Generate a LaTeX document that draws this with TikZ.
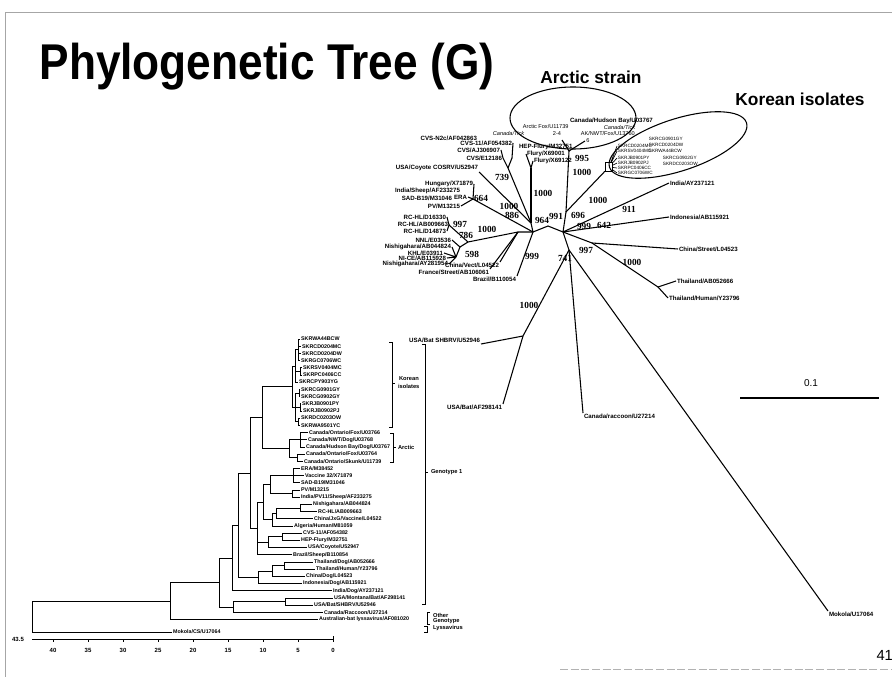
\documentclass[tikz,border=0pt]{standalone}
\usepackage{fontspec}
\setmainfont{Liberation Sans}
\newfontfamily\bootfont{Liberation Serif}
\usetikzlibrary{positioning}

\tikzset{every picture/.style={line width=0.75pt}}
\tikzset{
  br/.style={line width=0.6pt},
  rb/.style={line width=0.8pt},
  tlab/.style={anchor=west,inner sep=0.5pt,font=\bfseries\fontsize{4}{4.4}\selectfont},
  rlab/.style={inner sep=0.4pt,font=\bfseries\fontsize{4.6}{5}\selectfont},
  klab/.style={anchor=west,inner sep=0.3pt,font=\fontsize{3.5}{3.8}\selectfont},
  boot/.style={inner sep=0pt,font=\bootfont\bfseries\fontsize{7}{8}\selectfont},
  grp/.style={anchor=west,inner sep=0.4pt,font=\bfseries\fontsize{4.3}{4.7}\selectfont},
  axl/.style={inner sep=0pt,font=\bfseries\fontsize{4.5}{5}\selectfont},
  head/.style={inner sep=0pt,font=\bfseries\fontsize{13}{15}\selectfont},
}

\begin{document}
\begin{tikzpicture}[x=0.75pt,y=0.75pt,yscale=-1,xscale=1]
\useasboundingbox (0,0) rectangle (892,677);

%Slide frame
\draw [gray!70,line width=0.6pt] (5,677) -- (5,12) -- (892,12) ;
\draw [gray!60,line width=0.6pt,dash pattern=on 6pt off 2pt] (560,669) -- (892,669) ;

% Text Node
\node [anchor=base west,inner sep=0pt,font=\bfseries\fontsize{37.7}{40}\selectfont] (title) at (39,80) {\scalebox{0.88}[1]{Phylogenetic Tree (G)}};
% Text Node
\node [head] (arcticlbl) at (591,77) {Arctic strain};
% Text Node
\node [head] (korlbl) at (800,99) {Korean isolates};

%Shape: Ellipse
\draw [rb] (573,118) ellipse [x radius=63, y radius=31] ;
%Shape: Ellipse
\draw [rb,rotate around={-18:(678,145)}] (678,145) ellipse [x radius=72, y radius=26] ;

%%%%%%%% rectangular tree : leaves
\node [tlab] (t1) at (300,339.0) {SKRWA44BCW};
\node [tlab] (t2) at (301,346.2) {SKRCD0204MC};
\node [tlab] (t3) at (301,353.4) {SKRCD0204DW};
\node [tlab] (t4) at (300,360.6) {SKRGC0706WC};
\node [tlab] (t5) at (302,367.8) {SKRSV0404MC};
\node [tlab] (t6) at (302,375.0) {SKRPC0406CC};
\node [tlab] (t7) at (298,382.1) {SKRCPY903YG};
\node [tlab] (t8) at (300,389.3) {SKRCG0901GY};
\node [tlab] (t9) at (300,396.5) {SKRCG0902GY};
\node [tlab] (t10) at (301,403.7) {SKRJB0901PY};
\node [tlab] (t11) at (302,410.9) {SKRJB0902PJ};
\node [tlab] (t12) at (300,418.1) {SKRDC0203OW};
\node [tlab] (t13) at (300,425.3) {SKRWA9501YC};
\node [tlab] (t14) at (308,432.5) {Canada/Ontario/Fox/U03766};
\node [tlab] (t15) at (307,439.7) {Canada/NWT/Dog/U03768};
\node [tlab] (t16) at (305,446.9) {Canada/Hudson Bay/Dog/U03767};
\node [tlab] (t17) at (305,454.0) {Canada/Ontario/Fox/U03764};
\node [tlab] (t18) at (303,461.2) {Canada/Ontario/Skunk/U11739};
\node [tlab] (t19) at (300,468.4) {ERA/M38452};
\node [tlab] (t20) at (304,475.6) {Vaccine 32/X71879};
\node [tlab] (t21) at (300,482.8) {SAD-B19/M31046};
\node [tlab] (t22) at (300,490.0) {PV/M13215};
\node [tlab] (t23) at (300,497.2) {India/PV11/Sheep/AF233275};
\node [tlab] (t24) at (312,504.4) {Nishigahara/AB044824};
\node [tlab] (t25) at (317,511.6) {RC-HL/AB009663};
\node [tlab] (t26) at (313,518.8) {China/JxG/Vaccine/L04522};
\node [tlab] (t27) at (293,525.9) {Algeria/Human/M81059};
\node [tlab] (t28) at (302,533.1) {CVS-11/AF054382};
\node [tlab] (t29) at (300,540.3) {HEP-Flury/M32751};
\node [tlab] (t30) at (307,547.5) {USA/Coyote/U52947};
\node [tlab] (t31) at (292,554.7) {Brazil/Sheep/B110854};
\node [tlab] (t32) at (313,561.9) {Thailand/Dog/AB052666};
\node [tlab] (t33) at (315,569.1) {Thailand/Human/Y23796};
\node [tlab] (t34) at (305,576.3) {China/Dog/L04523};
\node [tlab] (t35) at (302,583.5) {Indonesia/Dog/AB115921};
\node [tlab] (t36) at (332,590.7) {India/Dog/AY237121};
\node [tlab] (t37) at (333,597.9) {USA/Montana/Bat/AF298141};
\node [tlab] (t38) at (313,605.1) {USA/Bat/SHBRV/U52946};
\node [tlab] (t39) at (323,612.2) {Canada/Raccoon/U27214};
\node [tlab] (t40) at (318,619.4) {Australian-bat lyssavirus/AF081020};
\node [tlab] (t41) at (172,632) {Mokola/CS/U17064};

%%%%%%%% rectangular tree : inner nodes
\coordinate (kA) at (298,349.8);
\coordinate (kB) at (300,371.4);
\coordinate (kC) at (295,366.0);
\coordinate (kD) at (299,392.9);
\coordinate (kE) at (300,407.3);
\coordinate (kF) at (298,421.7);
\coordinate (kG) at (295,407.3);
\coordinate (K0) at (292,386.6);
\coordinate (a1) at (300,439.7);
\coordinate (a2) at (297,457.6);
\coordinate (A0) at (289,448.7);
\coordinate (KA) at (262,417.6);
\coordinate (e1) at (293,475.6);
\coordinate (e2) at (292,493.6);
\coordinate (e3) at (270,484.6);
\coordinate (n1) at (300,508.0);
\coordinate (n2) at (276,513.4);
\coordinate (n3) at (272,519.7);
\coordinate (e4) at (263,502.1);
\coordinate (c1) at (282,536.7);
\coordinate (c2) at (268,542.1);
\coordinate (Z) at (257,528.4);
\coordinate (X) at (250,473.0);
\coordinate (th1) at (284,565.5);
\coordinate (th2) at (272,570.9);
\coordinate (th3) at (258,577.2);
\coordinate (G1a) at (238,525.1);
\coordinate (G1b) at (232,557.9);
\coordinate (b1) at (285,601.5);
\coordinate (b2) at (233,606.9);
\coordinate (G1) at (219,582.4);
\coordinate (N7) at (170,600.9);
\coordinate (root) at (32,616.5);

%Straight Lines
\foreach \p/\c in {kA/t1,kA/t2,kA/t3,kA/t4,kB/t5,kB/t6,kC/kA,kC/kB,kC/t7,
  kD/t8,kD/t9,kE/t10,kE/t11,kF/t12,kF/t13,kG/kD,kG/kE,kG/kF,K0/kC,K0/kG,
  a1/t14,a1/t15,a1/t16,a2/t17,a2/t18,A0/a1,A0/a2,KA/K0,KA/A0,
  e1/t19,e1/t20,e1/t21,e2/t22,e2/t23,e3/e1,e3/e2,n1/t24,n1/t25,n2/n1,n2/t26,
  n3/n2,n3/t27,e4/e3,e4/n3,c1/t28,c1/t29,c2/c1,c2/t30,Z/e4,Z/c2,Z/t31,X/KA,X/Z,
  th1/t32,th1/t33,th2/th1,th2/t34,th3/th2,th3/t35,G1a/X,G1a/th3,G1b/G1a,G1b/t36,
  b1/t37,b1/t38,b2/b1,b2/t39,G1/G1b,G1/b2,N7/G1,N7/t40,root/N7,root/t41}
  \draw [br] (\p) |- (\c) ;

%Brackets
\draw [br] (389,342) -- (392,342) -- (392,427) -- (389,427) (392,383) -- (395,383) ;
\node [grp] (korgrp) at (398,379) {Korean};
\node [grp] (korgrp2) at (397,386) {isolates};
\draw [br] (390,433) -- (393,433) -- (393,462) -- (390,462) (393,447) -- (396,447) ;
\node [grp] (arcgrp) at (397,447) {Arctic};
\draw [br] (422,344) -- (425,344) -- (425,604) -- (422,604) (425,472) -- (428,472) ;
\node [grp] (g1grp) at (430,472) {Genotype 1};
\draw [br] (430,612) -- (427,612) -- (427,624) -- (430,624) ;
\draw [br] (424,626) -- (427,626) -- (427,632) -- (424,632) ;
\node [grp] (othgrp) at (432,615) {Other};
\node [grp] (othgrp2) at (432,621) {Genotype};
\node [grp] (othgrp3) at (432,628) {Lyssavirus};

%Axis
\draw [br] (32,639) -- (333,639) -- (333,636) ;
\foreach \t in {0,5,...,40} {
  \draw [br] ({333-7*\t},639) -- ({333-7*\t},641.5) ;
  \node [axl] (ax\t) at ({333-7*\t},650) {\t};
}
\node [axl] (axmax) at (18,639) {43.5};

%%%%%%%% radial tree : inner nodes
\coordinate (rLw) at (518,232);
\coordinate (rL) at (533,232);
\coordinate (rT) at (548,226);
\coordinate (rR) at (563,232);
\coordinate (r964) at (531,223);
\coordinate (rF) at (531,168);
\coordinate (r739) at (508,168);
\coordinate (cv1) at (503,158);
\coordinate (cv2) at (512,158);
\coordinate (rUC) at (479,172);
\coordinate (rE) at (473,199);
\coordinate (rRC) at (468,242);
\coordinate (r997l) at (449,225);
\coordinate (r786) at (460,247);
\coordinate (r598) at (456,257);
\coordinate (rCV) at (500,262);
\coordinate (rFS) at (490,269);
\coordinate (rBr) at (517,276);
\coordinate (r991) at (566,212);
\coordinate (r995) at (569,151);
\coordinate (ar1) at (562,140);
\coordinate (ar2) at (585,141);
\coordinate (rIn) at (669,183);
\coordinate (rId) at (669,217);
\coordinate (r997r) at (592,243);
\coordinate (rCS) at (678,249);
\coordinate (rTh) at (658,287);
\coordinate (rT1) at (676,281);
\coordinate (rT2) at (668,298);
\coordinate (r741) at (569,250);
\coordinate (rMo) at (828,611);
\coordinate (rCR) at (583,413);
\coordinate (rUB) at (523,336);
\coordinate (rUB1) at (481,344);
\coordinate (rUB2) at (503,404);
\node [draw,line width=0.6pt,minimum width=5.5pt,minimum height=7pt,inner sep=0pt] (rKo) at (609,167) {};

% Text Node
\node [rlab,anchor=south east] (uc) at (rUC) {USA/Coyote COSRV/U52947};
\node [rlab,anchor=east] (cvs1) at (cv1) {CVS/E12186};
\node [rlab,anchor=east] (cvs2) at (501,150) {CVS/AJ306907};
\node [rlab,anchor=east] (cvs3) at (513,143) {CVS-11/AF054382};
\node [rlab,anchor=east] (cvs4) at (478,138) {CVS-N2c/AF042863};
\node [klab,font=\itshape\fontsize{4.2}{4.6}\selectfont] (ctk1) at (492,134) {Canada/Tick};
\node [rlab,anchor=west] (flu1) at (518,147) {HEP-Flury/M32751};
\node [rlab,anchor=west] (flu2) at (526,154) {Flury/X69001};
\node [rlab,anchor=west] (flu3) at (533,161) {Flury/X69122};
\node [rlab,anchor=east] (hun) at (474,184) {Hungary/X71879};
\node [rlab,anchor=east] (ish) at (461,191) {India/Sheep/AF233275};
\node [rlab,anchor=east] (sad) at (453,198) {SAD-B19/M31046};
\node [rlab,anchor=east] (era) at (468,197) {ERA};
\node [rlab,anchor=east] (pv) at (461,206) {PV/M13215};
\node [rlab,anchor=east] (rc1) at (447,217) {RC-HL/D16330};
\node [rlab,anchor=east] (rc2) at (449,224) {RC-HL/AB009663};
\node [rlab,anchor=east] (rc3) at (447,231) {RC-HL/D14873};
\node [rlab,anchor=east] (nnl) at (452,240) {NNL/E03536};
\node [rlab,anchor=east] (nis1) at (452,247) {Nishigahara/AB044824};
\node [rlab,anchor=east] (khl) at (444,253) {KHL/E03911};
\node [rlab,anchor=east] (nice) at (447,258) {NI-CE/AB115928};
\node [rlab,anchor=east] (nis2) at (449,264) {Nishigahara/AY281954};
\node [rlab,anchor=north east] (chv) at (rCV) {China/Vect/L04522};
\node [rlab,anchor=north east] (frs) at (rFS) {France/Street/AB106061};
\node [rlab,anchor=north east] (brz) at (rBr) {Brazil/B110054};
\node [klab,font=\fontsize{4.2}{4.6}\selectfont] (afx) at (522,127) {Arctic Fox/U11739};
\node [klab,anchor=center,font=\fontsize{4.2}{4.6}\selectfont] (s24) at (557,134) {2-4};
\node [rlab,anchor=west] (chb) at (569,121) {Canada/Hudson Bay/U03767};
\node [klab,font=\itshape\fontsize{4.2}{4.6}\selectfont] (ctk2) at (603,128) {Canada/Tick};
\node [klab,font=\fontsize{4.2}{4.6}\selectfont] (akn) at (580,134) {AK/NWT/Fox/U13760};
\node [klab,anchor=center,font=\fontsize{4.2}{4.6}\selectfont] (s6) at (588,141) {6};
\node [klab] (kr1) at (617,146) {SKRCD0204MC};
\node [klab] (kr2) at (617,151) {SKRSV0404MC};
\node [klab] (kr3) at (648,139) {SKRCG0901GY};
\node [klab] (kr4) at (648,145) {SKRCD0204DW};
\node [klab] (kr5) at (648,151) {SKRWA44BCW};
\node [klab] (kr6) at (617,158) {SKRJB0901PY};
\node [klab] (kr7) at (617,163) {SKRJB0902PJ};
\node [klab] (kr8) at (617,168) {SKRPC0406CC};
\node [klab] (kr9) at (617,173) {SKRGC0706WC};
\node [klab] (kr10) at (662,158) {SKRCG0902GY};
\node [klab] (kr11) at (662,164) {SKRDC0203OW};
\node [rlab,anchor=west] (ind) at (rIn) {India/AY237121};
\node [rlab,anchor=west] (idn) at (rId) {Indonesia/AB115921};
\node [rlab,anchor=west] (chs) at (rCS) {China/Street/L04523};
\node [rlab,anchor=west] (tha) at (rT1) {Thailand/AB052666};
\node [rlab,anchor=west] (thh) at (rT2) {Thailand/Human/Y23796};
\node [rlab,anchor=north west] (mok) at (rMo) {Mokola/U17064};
\node [rlab,anchor=north west] (ccr) at (rCR) {Canada/raccoon/U27214};
\node [rlab,anchor=south east] (ubs) at (rUB1) {USA/Bat SHBRV/U52946};
\node [rlab,anchor=north east] (uba) at (rUB2) {USA/Bat/AF298141};

%Straight Lines
\draw [rb] (rLw) -- (rL) -- (rT) -- (rR) ;
\foreach \a/\b in {rL/r964,r964/rF,r964/r739,r964/rUC,r739/cv1,r739/cv2,
  rL/rE,rLw/rRC,rRC/r997l,rRC/r786,r786/r598,rLw/rCV,rLw/rFS,rL/rBr,
  rR/r991,r991/r995,r995/ar1,r995/ar2,r991/rKo,rR/rIn,rR/rId,rR/r997r,
  r997r/rCS,r997r/rTh,rTh/rT1,rTh/rT2,rR/r741,r741/rMo,r741/rCR,r741/rUB,
  rUB/rUB1,rUB/rUB2}
  \draw [rb] (\a) -- (\b) ;
\draw [rb] (cv2) -- (cvs3.east) (cv1) -- (cvs2.east) ;
\draw [rb] (rF) -- (flu2.west) (rF) -- (flu3.west) ;
\draw [rb] (rE) -- (hun.east) (rE) -- (era.east) (rE) -- (pv.east) ;
\draw [rb] (r997l) -- (rc1.east) (r997l) -- (rc2.east) (r997l) -- (rc3.east) ;
\draw [rb] (r786) -- (nnl.east) ;
\draw [rb] (r598) -- (nis1.east) (r598) -- (khl.east) (r598) -- (nice.east) (r598) -- (nis2.east) ;
\draw [line width=0.5pt] (rKo) -- (kr1.west) (rKo) -- (kr2.west) (rKo) -- (kr6.west) (rKo) -- (kr7.west) (rKo) -- (kr8.west) (rKo) -- (kr9.west) ;

% Bootstrap values
\node [boot] (b739) at (502,177) {739};
\node [boot] (b1000a) at (543,193) {1000};
\node [boot] (b1000b) at (509,206) {1000};
\node [boot] (b886) at (512,215) {886};
\node [boot] (b964) at (542,220) {964};
\node [boot] (b664) at (481,198) {664};
\node [boot] (b997l) at (460,224) {997};
\node [boot] (b1000c) at (487,229) {1000};
\node [boot] (b786) at (466,235) {786};
\node [boot] (b598) at (472,254) {598};
\node [boot] (b999l) at (532,256) {999};
\node [boot] (b1000d) at (529,305) {1000};
\node [boot] (b991) at (556,216) {991};
\node [boot] (b696) at (578,215) {696};
\node [boot] (b995) at (582,158) {995};
\node [boot] (b1000e) at (582,172) {1000};
\node [boot] (b1000f) at (598,200) {1000};
\node [boot] (b911) at (629,209) {911};
\node [boot] (b999r) at (584,226) {999};
\node [boot] (b642) at (604,225) {642};
\node [boot] (b997r) at (586,250) {997};
\node [boot] (b741) at (565,258) {741};
\node [boot] (b1000g) at (632,262) {1000};

%Scale bar
\coordinate (sb1) at (740,398);
\coordinate (sb2) at (879,398);
\draw [line width=1pt] (sb1) -- (sb2) ;
\node [inner sep=0pt,font=\fontsize{7.5}{8}\selectfont] (sbl) at (811,383) {0.1};

% Text Node
\node [anchor=west,inner sep=0pt,font=\fontsize{11}{12}\selectfont] (pgno) at (876,655) {41};

\end{tikzpicture}
\end{document}
